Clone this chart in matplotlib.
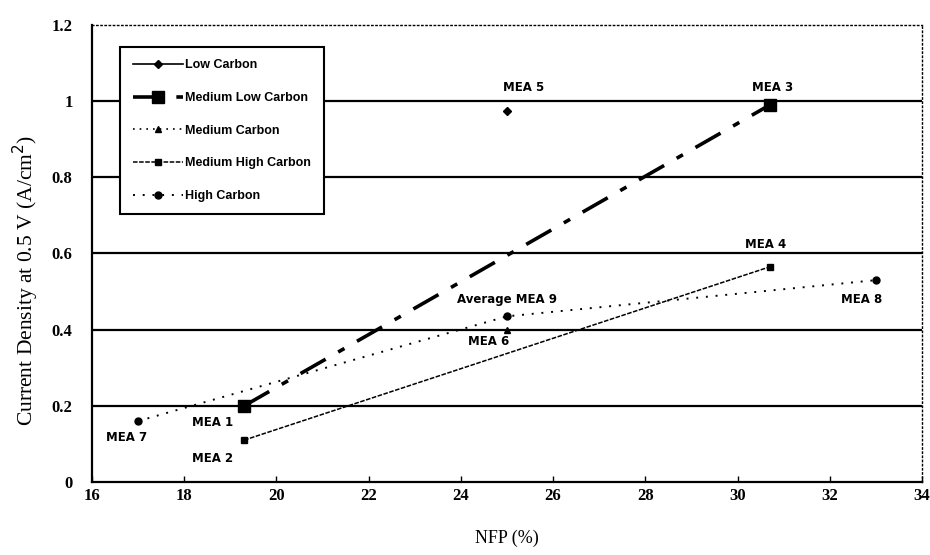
import matplotlib
matplotlib.use("Agg")
import matplotlib.pyplot as plt

# Data
low_x = [25.0]
low_y = [0.975]
medlow_x = [19.3, 30.7]
medlow_y = [0.20, 0.99]
med_x = [25.0]
med_y = [0.40]
medhigh_x = [19.3, 30.7]
medhigh_y = [0.11, 0.565]
high_x = [17.0, 25.0, 33.0]
high_y = [0.16, 0.435, 0.53]

annotations = [
    ("MEA 5", 25.35, 1.037), ("MEA 3", 30.75, 1.037), ("MEA 4", 30.6, 0.624),
    ("Average MEA 9", 25.0, 0.48), ("MEA 8", 32.7, 0.479), ("MEA 6", 24.6, 0.368),
    ("MEA 1", 18.62, 0.155), ("MEA 7", 16.76, 0.118), ("MEA 2", 18.62, 0.063),
]
xticks = [16, 18, 20, 22, 24, 26, 28, 30, 32, 34]
yticks = [0, 0.2, 0.4, 0.6, 0.8, 1.0, 1.2]
yticklabels = ["0", "0.2", "0.4", "0.6", "0.8", "1", "1.2"]

fig = plt.figure(figsize=(9.3, 5.55), dpi=100)
ax = fig.add_axes([0.0989, 0.1315, 0.8925, 0.8235])

sans = "Liberation Sans"
ann_font = "DejaVu Sans"
serif = "Liberation Serif"

for y in yticks[1:-1]:
    ax.axhline(y, color="black", lw=1.6, zorder=1)

ax.plot(low_x, low_y, color="black", lw=1.2, marker="D", ms=4, label="Low Carbon", zorder=3)
ax.plot(medlow_x, medlow_y, color="black", lw=2.6, ls=(0, (8, 4, 2, 4)), marker="s", ms=9,
        label="Medium Low Carbon", zorder=3)
ax.plot(med_x, med_y, color="black", lw=1.2, ls=(0, (1, 3)), marker="^", ms=5,
        label="Medium Carbon", zorder=3)
ax.plot(medhigh_x, medhigh_y, color="black", lw=1.1, ls=(0, (3, 1)), marker="s", ms=5,
        label="Medium High Carbon", zorder=3)
ax.plot(high_x, high_y, color="black", lw=1.4, ls=(0, (1, 4)), marker="o", ms=5,
        label="High Carbon", zorder=3)

for txt, x, y in annotations:
    ax.text(x, y, txt, ha="center", va="center", fontsize=8.5, fontweight="bold",
            family=ann_font, zorder=4)

ax.set_xlim(16, 34)
ax.set_ylim(0, 1.2)
ax.set_xticks(xticks)
ax.set_xticklabels([str(t) for t in xticks], fontfamily=serif, fontweight="bold", fontsize=12)
ax.set_yticks(yticks)
ax.set_yticklabels(yticklabels, fontfamily=serif, fontweight="bold", fontsize=12)
ax.tick_params(axis="x", direction="in", length=4, width=1, pad=4)
ax.tick_params(axis="y", length=0, pad=14)

for s in ["left", "bottom"]:
    ax.spines[s].set_linewidth(1.6)
for s in ["top", "right"]:
    ax.spines[s].set_linestyle((0, (1, 2)))
    ax.spines[s].set_linewidth(1.0)

ax.set_xlabel("NFP (%)", fontfamily=serif, fontsize=13, labelpad=19)
ax.set_ylabel("Current Density at 0.5 V (A/cm$^2$)", fontfamily=serif, fontsize=15.5)
ax.yaxis.set_label_coords(-0.062, 0.44)

leg = ax.legend(loc="upper left", bbox_to_anchor=(0.034, 0.952), frameon=True, fancybox=False,
                edgecolor="black", framealpha=1, prop={"family": sans, "weight": "bold", "size": 9},
                handlelength=4.0, labelspacing=1.65, borderpad=1.0, handletextpad=0.2,
                borderaxespad=0)
leg.get_frame().set_linewidth(1.5)
leg.set_zorder(5)

fig.savefig("out.png", dpi=100, facecolor="white")
